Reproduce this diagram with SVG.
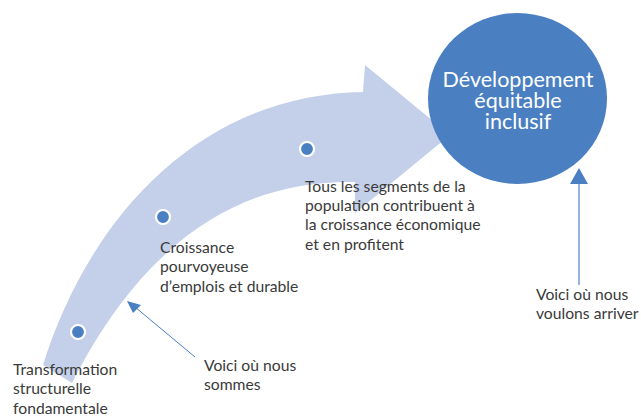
<svg xmlns="http://www.w3.org/2000/svg" width="641" height="416" viewBox="0 0 641 416">
<style>
.lbl{font-family:Lato,"Liberation Sans",sans-serif;font-size:15.7px;fill:#3a3a3a}
.ttl{font-family:Lato,"Liberation Sans",sans-serif;font-size:21.5px;fill:#ffffff;text-anchor:middle}
.dot{fill:#4A7FC1;stroke:#ffffff;stroke-width:2.2}
</style>
<rect width="641" height="416" fill="#ffffff"/>
<g id="band">
<path d="M43,365 C85,230 190,95 363,92 L365,65 L450,135 L355,213 L355,182 C250,180 150,230 72,383 Z" fill="#C4D0E9"/>
</g>
<g id="goal">
<ellipse cx="517.5" cy="98.5" rx="89.5" ry="85.5" fill="#4A7FC1"/>
<text class="ttl" x="518" y="87">Développement</text>
<text class="ttl" x="518" y="108">équitable</text>
<text class="ttl" x="518" y="129">inclusif</text>
</g>
<g id="step1">
<circle class="dot" cx="78" cy="332" r="7"/>
<text class="lbl" x="13" y="375">Transformation</text>
<text class="lbl" x="13" y="394">structurelle</text>
<text class="lbl" x="13" y="414">fondamentale</text>
</g>
<g id="step2">
<circle class="dot" cx="163" cy="217" r="7"/>
<text class="lbl" x="160" y="253">Croissance</text>
<text class="lbl" x="160" y="272">pourvoyeuse</text>
<text class="lbl" x="160" y="292">d’emplois et durable</text>
</g>
<g id="step3">
<circle class="dot" cx="307" cy="149" r="7"/>
<text class="lbl" x="305" y="192">Tous les segments de la</text>
<text class="lbl" x="305" y="211">population contribuent à</text>
<text class="lbl" x="305" y="230">la croissance économique</text>
<text class="lbl" x="305" y="250">et en profitent</text>
</g>
<g id="here">
<text class="lbl" x="204" y="371">Voici où nous</text>
<text class="lbl" x="204" y="390">sommes</text>
</g>
<g id="there">
<text class="lbl" x="536" y="300">Voici où nous</text>
<text class="lbl" x="536" y="319">voulons arriver</text>
</g>
<g id="connectors">
<line x1="195" y1="357" x2="135" y2="307" stroke="#4A7FC1" stroke-width="1"/>
<path d="M127,301 L141,305 L133,313 Z" fill="#4A7FC1"/>
<line x1="579" y1="285" x2="579" y2="182" stroke="#95B3DC" stroke-width="2"/>
<path d="M579,168 L588,184 L570,184 Z" fill="#4A7FC1"/>
</g>
</svg>
